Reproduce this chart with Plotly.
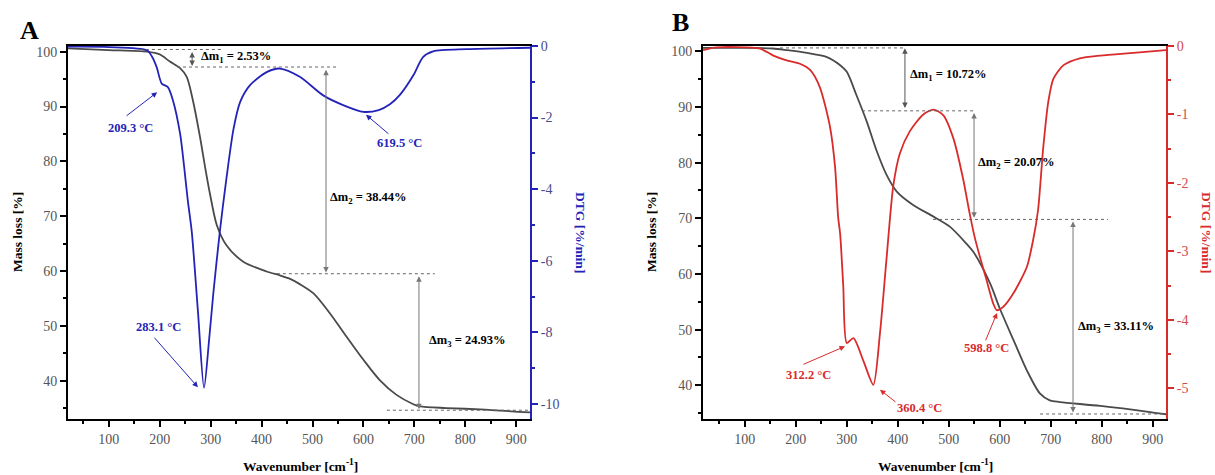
import plotly.graph_objects as go

# ---------------- data ----------------
# Panel A
tg_a_x = [20, 100, 175, 200, 220, 240, 253, 265, 279, 289, 299, 312, 331, 364, 410, 436, 455, 475, 502, 534, 567, 600, 632, 665, 698, 711, 763, 829, 927]
tg_a_y = [100.6, 100.3, 100.0, 99.5, 98.2, 97.0, 95.4, 91.2, 84.5, 79.0, 73.9, 68.4, 64.7, 61.7, 59.9, 59.2, 58.6, 57.6, 55.9, 52.3, 48.0, 43.8, 40.1, 37.4, 35.7, 35.3, 35.0, 34.75, 34.2]
dtg_a_x = [20, 100, 175, 185, 194, 204, 216, 226, 240, 248, 255, 263, 275, 287, 297, 305, 318, 331, 345, 358, 377, 410, 436, 475, 521, 560, 600, 630, 652, 672, 698, 717, 737, 803, 927]
dtg_a_y = [-0.02, -0.03, -0.12, -0.30, -0.59, -1.05, -1.15, -1.52, -2.45, -3.38, -4.30, -5.20, -7.40, -9.55, -8.20, -6.95, -5.19, -3.70, -2.31, -1.56, -1.10, -0.73, -0.63, -0.86, -1.38, -1.65, -1.84, -1.79, -1.63, -1.36, -0.82, -0.31, -0.15, -0.09, -0.05]

# Panel B
tg_b_x = [18, 100, 155, 183, 222, 260, 287, 300, 319, 339, 359, 378, 398, 430, 470, 502, 535, 548, 581, 600, 627, 653, 679, 698, 718, 797, 895, 926]
tg_b_y = [100.6, 100.6, 100.5, 100.2, 99.7, 99.0, 97.5, 96.3, 92.1, 87.4, 82.0, 77.8, 74.8, 72.4, 70.3, 68.5, 65.4, 64.0, 58.3, 53.8, 48.1, 42.7, 38.5, 37.3, 37.0, 36.3, 35.2, 34.8]
dtg_b_x = [18, 45, 130, 156, 182, 208, 228, 247, 267, 277, 283, 287, 293, 300, 313, 332, 352, 365, 378, 391, 404, 424, 450, 470, 489, 509, 528, 541, 551, 561, 574, 587, 594, 607, 627, 653, 665, 675, 685, 695, 705, 725, 757, 797, 862, 926]
dtg_b_y = [-0.06, -0.02, -0.04, -0.14, -0.21, -0.26, -0.35, -0.60, -1.18, -1.77, -2.50, -2.75, -3.50, -4.34, -4.27, -4.59, -4.95, -4.20, -3.10, -2.05, -1.57, -1.24, -1.00, -0.93, -1.01, -1.35, -1.94, -2.45, -2.80, -3.08, -3.42, -3.76, -3.86, -3.81, -3.61, -3.23, -2.85, -2.40, -1.50, -0.82, -0.48, -0.28, -0.18, -0.14, -0.10, -0.06]

x_ticks = [100, 200, 300, 400, 500, 600, 700, 800, 900]
left_ticks = [40, 50, 60, 70, 80, 90, 100]
right_ticks_a = [0, -2, -4, -6, -8, -10]
right_ticks_b = [0, -1, -2, -3, -4, -5]

# labels / annotations
peaks_a = ["209.3 °C", "283.1 °C", "619.5 °C"]
peaks_b = ["312.2 °C", "360.4 °C", "598.8 °C"]
dm_a = ["2.53%", "38.44%", "24.93%"]
dm_b = ["10.72%", "20.07%", "33.11%"]

# ---------------- style ----------------
FONT = "Liberation Serif"
GRAY = "#4a4a4a"
BLUE = "#2323b8"
RED = "#d92b2b"
TICKC = "#555555"

fig = go.Figure()
fig.add_trace(go.Scatter(x=tg_a_x, y=tg_a_y, mode="lines", line=dict(color=GRAY, width=1.8, shape="spline", smoothing=0.8), xaxis="x", yaxis="y", showlegend=False))
fig.add_trace(go.Scatter(x=dtg_a_x, y=dtg_a_y, mode="lines", line=dict(color=BLUE, width=1.8, shape="spline", smoothing=0.75), xaxis="x", yaxis="y2", showlegend=False))
fig.add_trace(go.Scatter(x=tg_b_x, y=tg_b_y, mode="lines", line=dict(color=GRAY, width=1.8, shape="spline", smoothing=0.8), xaxis="x2", yaxis="y3", showlegend=False))
fig.add_trace(go.Scatter(x=dtg_b_x, y=dtg_b_y, mode="lines", line=dict(color=RED, width=1.8, shape="spline", smoothing=0.7), xaxis="x2", yaxis="y4", showlegend=False))

ydom = [0.1179, 0.9032]
tickfont = dict(family=FONT, size=14, color=TICKC)

def xax(domain, anchor, rng):
    return dict(domain=domain, anchor=anchor, range=rng, tickvals=x_ticks, ticks="outside", ticklen=6,
                tickwidth=1.5, tickcolor="black", showline=True, linecolor="black", linewidth=2,
                mirror=True, showgrid=False, zeroline=False, tickfont=tickfont, automargin=False,
                minor=dict(dtick=50, tick0=0, ticks="outside", ticklen=3, tickcolor="black", showgrid=False))

def yleft(anchor, rng):
    return dict(domain=ydom, anchor=anchor, range=rng, tickvals=left_ticks, ticks="outside", ticklen=6,
                tickwidth=1.5, tickcolor="black", showline=True, linecolor="black", linewidth=2,
                showgrid=False, zeroline=False, tickfont=tickfont, automargin=False,
                minor=dict(dtick=5, tick0=0, ticks="outside", ticklen=3, tickcolor="black", showgrid=False))

def yright(anchor, over, rng, tv, color, tcolor, mdt):
    return dict(anchor=anchor, overlaying=over, side="right", range=rng, tickvals=tv,
                ticktext=[str(v) for v in tv], ticks="outside", automargin=False,
                ticklen=6, tickwidth=1.5, tickcolor=color, showline=True, linecolor=color, linewidth=2,
                showgrid=False, zeroline=False, tickfont=dict(family=FONT, size=14, color=tcolor),
                minor=dict(dtick=mdt, tick0=0, ticks="outside", ticklen=3, tickcolor=color, showgrid=False))

fig.update_layout(
    width=1215, height=475, margin=dict(l=0, r=0, t=0, b=0, pad=0, autoexpand=False),
    paper_bgcolor="white", plot_bgcolor="white",
    font=dict(family=FONT),
    xaxis=xax([0.056, 0.4362], "y", [20, 927]),
    yaxis=yleft("x", [33.0, 101.04]),
    yaxis2=yright("x", "y", [-10.42, 0.0], right_ticks_a, BLUE, "#4a4a8a", 1),
    xaxis2=xax([0.5786, 0.9597], "y3", [18, 926]),
    yaxis3=yleft("x2", [33.95, 100.95]),
    yaxis4=yright("x2", "y3", [-5.45, 0.0], right_ticks_b, RED, "#d24a4a", 0.5),
)

shapes = []
def dash(xr, yr, x0, x1, y):
    shapes.append(dict(type="line", xref=xr, yref=yr, x0=x0, x1=x1, y0=y, y1=y,
                       line=dict(color="#666666", width=1, dash="dot")))

# Panel A dashed levels
dash("x", "y", 161, 324, 100.4)
dash("x", "y", 234, 550, 97.2)
dash("x", "y", 430, 740, 59.5)
dash("x", "y", 646, 927, 34.6)
# Panel B dashed levels
dash("x2", "y3", 169, 414, 100.6)
dash("x2", "y3", 330, 548, 89.3)
dash("x2", "y3", 469, 812, 69.8)
dash("x2", "y3", 679, 926, 34.85)
fig.update_layout(shapes=shapes)

ann = []
def text(xr, yr, x, y, t, color="black", xanchor="left", size=12.5):
    ann.append(dict(xref=xr, yref=yr, x=x, y=y, text=f"<b>{t}</b>", showarrow=False, xanchor=xanchor,
                    yanchor="middle", font=dict(family=FONT, size=size, color=color)))

def arrow(xr, yr, x, y, ax, ay, color, both=False):
    ann.append(dict(xref=xr, yref=yr, x=x, y=y, ax=ax, ay=ay, axref=xr, ayref=yr, text="",
                    showarrow=True, arrowhead=2, arrowsize=1.1, arrowwidth=1, arrowcolor=color,
                    startarrowhead=2, startarrowsize=1.1,
                    arrowside="end+start" if both else "end"))

# Panel A annotations
text("x", "y", 277, 99.0, f"Δm<sub>1</sub> = {dm_a[0]}")
text("x", "y", 530, 73.3, f"Δm<sub>2</sub> = {dm_a[1]}")
text("x", "y", 725, 47.2, f"Δm<sub>3</sub> = {dm_a[2]}")
arrow("x", "y", 263.6, 97.4, 263.6, 100.2, "#555555", both=True)
arrow("x", "y", 526.5, 59.7, 526.5, 97.0, "#777777", both=True)
arrow("x", "y", 709, 34.8, 709, 59.3, "#777777", both=True)
text("x", "y", 142, 86.1, peaks_a[0], BLUE, "center")
arrow("x", "y", 195, 92.6, 132, 88.1, BLUE)
text("x", "y", 197, 49.8, peaks_a[1], BLUE, "center")
arrow("x", "y", 275, 38.8, 187, 48.1, BLUE)
text("x", "y", 671, 83.3, peaks_a[2], BLUE, "center")
arrow("x", "y", 605, 88.5, 652, 84.8, BLUE)

# Panel B annotations
text("x2", "y3", 420, 95.7, f"Δm<sub>1</sub> = {dm_b[0]}")
text("x2", "y3", 553, 79.9, f"Δm<sub>2</sub> = {dm_b[1]}")
text("x2", "y3", 749.5, 50.5, f"Δm<sub>3</sub> = {dm_b[2]}")
arrow("x2", "y3", 414, 89.8, 414, 100.8, "#555555", both=True)
arrow("x2", "y3", 549.5, 70.1, 549.5, 89.2, "#777777", both=True)
arrow("x2", "y3", 743.6, 35.1, 743.6, 69.7, "#777777", both=True)
text("x2", "y3", 225, 41.85, peaks_b[0], RED, "center")
arrow("x2", "y3", 296.5, 47.0, 212, 43.65, RED)
text("x2", "y3", 441.6, 35.9, peaks_b[1], RED, "center")
arrow("x2", "y3", 365, 39.2, 398.5, 36.8, RED)
text("x2", "y3", 574, 46.7, peaks_b[2], RED, "center")
arrow("x2", "y3", 594.6, 53.0, 571, 47.8, RED)

# Panel letters and axis titles (paper coords)
def ptext(x, y, t, size, color="black", angle=0):
    ann.append(dict(xref="paper", yref="paper", x=x / 1215, y=1 - y / 475, text=t, showarrow=False,
                    xanchor="center", yanchor="middle", textangle=angle,
                    font=dict(family=FONT, size=size, color=color)))

ptext(29, 31, "<b>A</b>", 26)
ptext(680, 23, "<b>B</b>", 26)
ptext(18, 232, "<b>Mass loss [%]</b>", 13.5, angle=-90)
ptext(652, 232, "<b>Mass loss [%]</b>", 13.5, angle=-90)
ptext(580, 232, "<b>DTG [%/min]</b>", 13.5, BLUE, angle=90)
ptext(1206, 232, "<b>DTG [%/min]</b>", 13.5, RED, angle=90)
ptext(300, 465, "<b>Wavenumber [cm<sup>-1</sup>]</b>", 13.5)
ptext(935, 465, "<b>Wavenumber [cm<sup>-1</sup>]</b>", 13.5)

fig.update_layout(annotations=ann)
fig.write_html(
    "out.html",
    config={"displayModeBar": False},
    post_script="document.body.style.margin='0';document.body.style.padding='0';document.body.style.overflow='hidden';",
)
